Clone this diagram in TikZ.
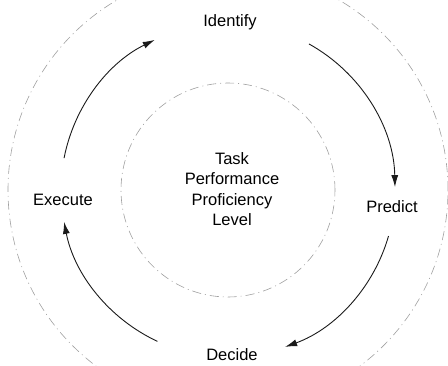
\documentclass[tikz,border=0pt]{standalone}
\usepackage{fontspec}
\setmainfont{Liberation Sans}
\usetikzlibrary{arrows.meta}
\definecolor{Line}{HTML}{1A1A1A}
\definecolor{Faint}{HTML}{A0A0A0}

\begin{document}
\begin{tikzpicture}[x=1pt,y=1pt,
 lbl/.style={font=\fontsize{16.5}{20.5}\selectfont,inner sep=1pt,align=center},
 a/.style={-{Latex[length=12pt,width=7pt]},line width=0.9pt,draw=Line},
 ring/.style={draw=Faint,line width=0.6pt,dash pattern=on 9pt off 4pt on 1pt off 4pt}
]
\useasboundingbox (-228,-175) rectangle (220,190);
\begin{scope}
\clip (-228,-175) rectangle (220,190);
\draw[ring] (0,0) circle[radius=220];
\end{scope}
\draw[ring] (0,0) circle[radius=107];
\node[lbl] (task) at (4,1) {Task\\Performance\\Proficiency\\Level};
\node[lbl] (identify) at (2,168) {Identify};
\node[lbl] (predict) at (164,-17) {Predict};
\node[lbl] (decide) at (4,-165) {Decide};
\node[lbl] (execute) at (-165,-10) {Execute};
\coordinate (idout) at (61:167);
\coordinate (prout) at (-16:167);
\coordinate (deout) at (-115:167);
\coordinate (exout) at (169:167);
\draw[a] (idout) arc[start angle=61,end angle=1,radius=167];
\draw[a] (prout) arc[start angle=-16,end angle=-70,radius=167];
\draw[a] (deout) arc[start angle=-115,end angle=-169,radius=167];
\draw[a] (exout) arc[start angle=169,end angle=116,radius=167];
\end{tikzpicture}
\end{document}
